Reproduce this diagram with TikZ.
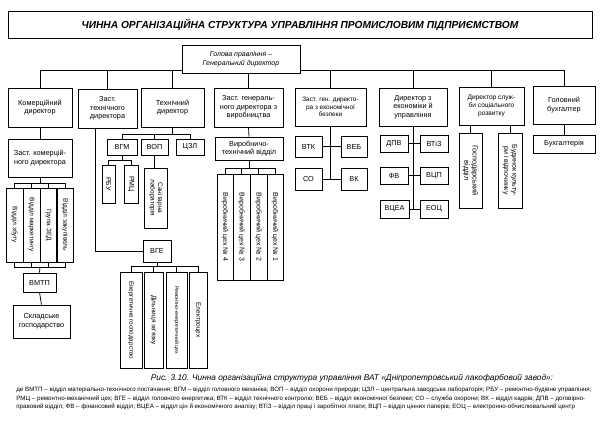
\documentclass[tikz,border=0pt]{standalone}
\usepackage{fontspec}
\setmainfont{Liberation Sans}
\begin{document}
\begin{tikzpicture}[x=1pt,y=-1pt, line width=0.75pt,
 mbox/.style={draw, align=center, inner sep=1pt, font=\fontsize{7.3}{8.6}\selectfont},
 vbox/.style={draw, rotate=-90, align=center, inner sep=1pt, font=\fontsize{6.5}{7.6}\selectfont},
 note/.style={anchor=west, inner sep=0pt, font=\fontsize{6.2}{6.6}\selectfont}]
\fill[white] (0,0) rectangle (600,427);
\useasboundingbox (0,0) rectangle (600,427);
% title
\node[draw, minimum width=584, minimum height=27, font=\fontsize{10.2}{11}\selectfont\bfseries\itshape] (title) at (300,24.5) {ЧИННА ОРГАНІЗАЦІЙНА СТРУКТУРА УПРАВЛІННЯ ПРОМИСЛОВИМ ПІДПРИЄМСТВОМ};
\node[mbox, minimum width=118, minimum height=28, font=\fontsize{7}{8.4}\selectfont\itshape] (g) at (241,59) {Голова правління –\\Генеральний директор};
% row 1
\node[mbox, minimum width=64, minimum height=39] (kd) at (40,107.5) {Комерційний\\директор};
\node[mbox, minimum width=59, minimum height=39] (ztd) at (107.5,108.5) {Заст.\\технічного\\директора};
\node[mbox, minimum width=63, minimum height=39] (td) at (172.5,107.5) {Технічний\\директор};
\node[mbox, minimum width=69, minimum height=39] (zg) at (248.5,107.5) {Заст. генераль-\\ного директора з\\виробництва};
\node[mbox, minimum width=71, minimum height=38, font=\fontsize{6.4}{7.8}\selectfont] (zeb) at (330.5,107) {Заст. ген. директо-\\ра з економічної\\безпеки};
\node[mbox, minimum width=68, minimum height=38] (de) at (413,107) {Директор з\\економіки й\\управління};
\node[mbox, minimum width=65, minimum height=38, font=\fontsize{6.6}{8}\selectfont] (ds) at (491.5,106) {Директор служ-\\би соціального\\розвитку};
\node[mbox, minimum width=62, minimum height=38] (gb) at (564,105) {Головний\\бухгалтер};
% top bus
\coordinate (gl) at (182,70);
\coordinate (gr) at (300,70);
\draw (gl) -| (kd.north);
\draw (gl -| ztd.north) -- (ztd.north);
\draw (gl -| td.north) -- (td.north);
\draw (g.south -| zg.north) -- (zg.north);
\draw (gr) -| (gb.north);
\draw (gr -| zeb.north) -- (zeb.north);
\draw (gr -| de.north) -- (de.north);
\draw (gr -| ds.north) -- (ds.north);
% commercial branch
\node[mbox, minimum width=64, minimum height=38] (zkd) at (40,158) {Заст. комерцій-\\ного директора};
\draw (kd.south) -- (zkd.north);
\node[vbox, minimum width=74, minimum height=17] (c1) at (14.5,225) {Відділ збуту};
\node[vbox, minimum width=74, minimum height=17] (c2) at (31.5,225) {Відділ маркетингу};
\node[vbox, minimum width=74, minimum height=17] (c3) at (48.5,225) {Група ЗЕД};
\node[vbox, minimum width=74, minimum height=17] (c4) at (65,225) {Відділ закупівель};
\coordinate (cb1) at (40,183);
\draw (zkd.south) -- (cb1);
\draw (c1.west) -- (c1.west |- cb1) -- (c4.west |- cb1) -- (c4.west);
\draw (c2.west) -- (c2.west |- cb1);
\draw (c3.west) -- (c3.west |- cb1);
\coordinate (cb2) at (40,267);
\draw (c1.east) -- (c1.east |- cb2) -- (c4.east |- cb2) -- (c4.east);
\draw (c2.east) -- (c2.east |- cb2);
\draw (c3.east) -- (c3.east |- cb2);
\node[mbox, minimum width=33, minimum height=19] (vmtp) at (39.5,282.5) {ВМТП};
\node[mbox, minimum width=57, minimum height=33] (skl) at (41.5,321.5) {Складське\\господарство};
\draw (cb2) -- (vmtp.north);
\draw (vmtp.south) -- (skl.north);
% technical director branch
\node[mbox, minimum width=30, minimum height=16] (vgm) at (122,147) {ВГМ};
\node[mbox, minimum width=27, minimum height=16] (vop) at (154.5,147) {ВОП};
\node[mbox, minimum width=28, minimum height=16] (czl) at (190,147) {ЦЗЛ};
\coordinate (tb) at (172.5,134);
\draw (td.south) -- (tb);
\draw (vgm.north) -- (vgm.north |- tb) -- (czl.north |- tb) -- (czl.north);
\draw (vop.north) -- (vop.north |- tb);
\node[vbox, minimum width=38, minimum height=13, font=\fontsize{7}{8}\selectfont] (rbu) at (108.5,184) {РБУ};
\node[vbox, minimum width=38, minimum height=14, font=\fontsize{7}{8}\selectfont] (rmc) at (131,184) {РМЦ};
\coordinate (vb) at (122,160);
\draw (vgm.south) -- (vb);
\draw (rbu.west) -- (rbu.west |- vb) -- (rmc.west |- vb) -- (rmc.west);
\node[vbox, minimum width=60, minimum height=23] (san) at (156,198) {Санітарна\\лабораторія};
\draw (vop.south) -- (vop.south |- san.west);
% deputy technical director -> VGE
\node[mbox, minimum width=28, minimum height=22] (vge) at (157,251) {ВГЕ};
\coordinate (vtl) at (95,251);
\draw (ztd.south -| vtl) -- (vtl) -- (vge.west);
\node[vbox, minimum width=96, minimum height=22, font=\fontsize{6.3}{7.4}\selectfont] (e1) at (131,320) {Енергетичне господарство};
\node[vbox, minimum width=96, minimum height=19] (e2) at (153.5,320) {Дільниця зв'язку};
\node[vbox, minimum width=96, minimum height=21, font=\fontsize{5.2}{6}\selectfont] (e3) at (176.5,320) {Ремонтно-енергетичний цех};
\node[vbox, minimum width=96, minimum height=18] (e4) at (198,320) {Електроцех};
\coordinate (gb2) at (157,266);
\draw (vge.south) -- (gb2);
\draw (e1.west) -- (e1.west |- gb2) -- (e4.west |- gb2) -- (e4.west);
\draw (e2.west) -- (e2.west |- gb2);
\draw (e3.west) -- (e3.west |- gb2);
% production deputy
\node[mbox, minimum width=68, minimum height=23] (vtv) at (249,148.5) {Виробничо-\\технічний відділ};
\draw (zg.south) -- (vtv.north);
\node[vbox, minimum width=106, minimum height=16, font=\fontsize{7}{8}\selectfont] (w4) at (225,227) {Виробничий цех № 4};
\node[vbox, minimum width=106, minimum height=17, font=\fontsize{7}{8}\selectfont] (w3) at (241.5,227) {Виробничий цех № 3};
\node[vbox, minimum width=106, minimum height=17, font=\fontsize{7}{8}\selectfont] (w2) at (258.5,227) {Виробничий цех № 2};
\node[vbox, minimum width=106, minimum height=16, font=\fontsize{7}{8}\selectfont] (w1) at (275,227) {Виробничий цех № 1};
\coordinate (cb3) at (249,168);
\draw (vtv.south) -- (cb3);
\draw (w4.west) -- (w4.west |- cb3) -- (w1.west |- cb3) -- (w1.west);
\draw (w3.west) -- (w3.west |- cb3);
\draw (w2.west) -- (w2.west |- cb3);
% economic security
\node[mbox, minimum width=27, minimum height=21] (vtk) at (308.5,146.5) {ВТК};
\node[mbox, minimum width=26, minimum height=21] (veb) at (354,146.5) {ВЕБ};
\node[mbox, minimum width=27, minimum height=22] (so) at (308.5,179) {СО};
\node[mbox, minimum width=26, minimum height=22] (vk) at (354,179) {ВК};
\draw (zeb.south) -- (zeb.south |- so.east);
\draw (vtk.east) -- (veb.west);
\draw (so.east) -- (vk.west);
% economics director
\node[mbox, minimum width=28, minimum height=17] (dpv) at (394,143.5) {ДПВ};
\node[mbox, minimum width=28, minimum height=17] (vtiz) at (434,143.5) {ВТіЗ};
\node[mbox, minimum width=28, minimum height=17] (fv) at (394,175.5) {ФВ};
\node[mbox, minimum width=28, minimum height=17] (vcp) at (434,175.5) {ВЦП};
\node[mbox, minimum width=29, minimum height=18] (vcea) at (394.5,209) {ВЦЕА};
\node[mbox, minimum width=28, minimum height=18] (eoc) at (434,209) {ЕОЦ};
\draw (de.south) -- (de.south |- vcea.east);
\draw (dpv.east) -- (vtiz.west);
\draw (fv.east) -- (vcp.west);
\draw (vcea.east) -- (eoc.west);
% social development
\node[vbox, minimum width=75, minimum height=23, font=\fontsize{7.3}{8.4}\selectfont] (gv) at (470.5,170.5) {Господарський\\відділ};
\node[vbox, minimum width=75, minimum height=24, font=\fontsize{7}{8.2}\selectfont] (bk) at (510,170.5) {Будинок культу-\\ри і відпочинку};
\draw (ds.south -| gv.center) -- (gv.west);
\draw (ds.south -| bk.center) -- (bk.west);
% accountant
\node[mbox, minimum width=62, minimum height=18] (buh) at (564,144) {Бухгалтерія};
\draw (gb.south) -- (buh.north);
% caption
\node[font=\fontsize{8.3}{9}\selectfont\itshape] (cap) at (352,378) {Рис. 3.10. Чинна організаційна структура управління ВАТ «Дніпропетровський лакофарбовий завод»:};
\node[note] (n1) at (16,390) {де ВМТП – відділ матеріально-технічного постачання; ВГМ – відділ головного механіка; ВОП – відділ охорони природи; ЦЗЛ – центральна заводська лабораторія; РБУ – ремонтно-будівне управління;};
\node[note] (n2) at (16,398.5) {РМЦ – ремонтно-механічний цех; ВГЕ – відділ головного енергетика; ВТК – відділ технічного контролю; ВЕБ – відділ економічної безпеки; СО – служба охорони; ВК – відділ кадрів; ДПВ – договірно-};
\node[note] (n3) at (16,407) {правовий відділ; ФВ – фінансовий відділ; ВЦЕА – відділ цін й економічного аналізу; ВТіЗ – відділ праці і заробітної плати; ВЦП – відділ цінних паперів; ЕОЦ – електронно-обчислювальний центр};
\end{tikzpicture}
\end{document}
